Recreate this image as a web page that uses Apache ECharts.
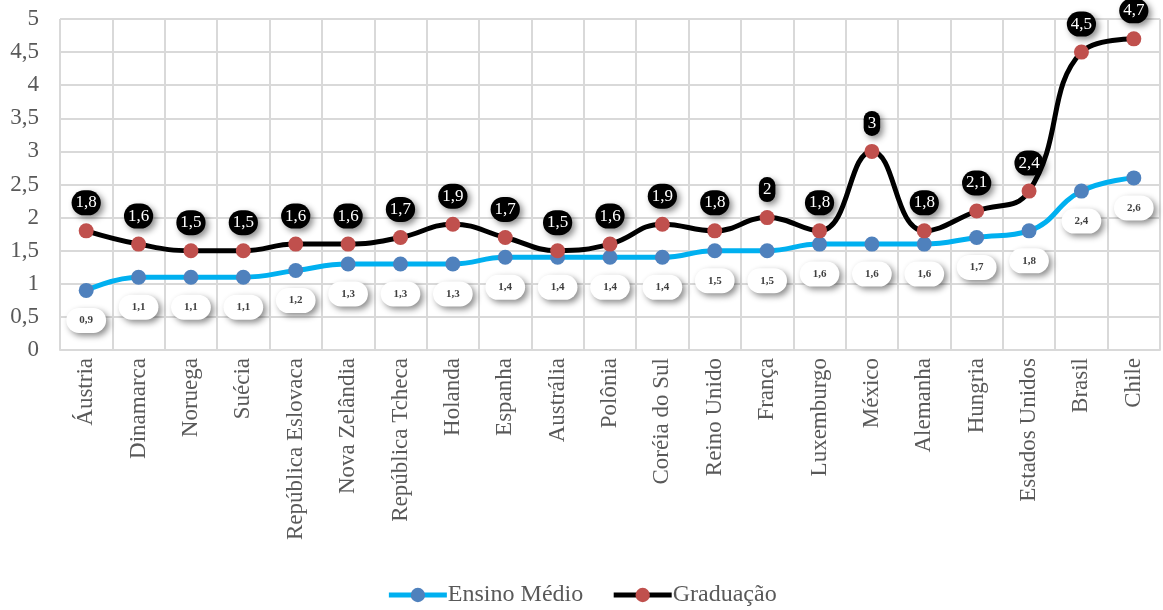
<!DOCTYPE html>
<html>
<head>
<meta charset="utf-8">
<script src="https://cdn.jsdelivr.net/npm/echarts@6/dist/echarts.min.js"></script>
<style>
  html, body { margin: 0; padding: 0; background: #fff; }
  #chart { width: 1163px; height: 610px; }
</style>
</head>
<body>
<div id="chart"></div>
<script>
const countries = ['Áustria', 'Dinamarca', 'Noruega', 'Suécia', 'República Eslovaca', 'Nova Zelândia',
  'República Tcheca', 'Holanda', 'Espanha', 'Austrália', 'Polônia', 'Coréia do Sul', 'Reino Unido',
  'França', 'Luxemburgo', 'México', 'Alemanha', 'Hungria', 'Estados Unidos', 'Brasil', 'Chile'];
const ensinoMedio = [0.9, 1.1, 1.1, 1.1, 1.2, 1.3, 1.3, 1.3, 1.4, 1.4, 1.4, 1.4, 1.5, 1.5, 1.6, 1.6, 1.6, 1.7, 1.8, 2.4, 2.6];
const graduacao = [1.8, 1.6, 1.5, 1.5, 1.6, 1.6, 1.7, 1.9, 1.7, 1.5, 1.6, 1.9, 1.8, 2, 1.8, 3, 1.8, 2.1, 2.4, 4.5, 4.7];

const fmt = (v) => String(v).replace('.', ',');
const font = '"Liberation Serif", "DejaVu Serif", serif';

const chart = echarts.init(document.getElementById('chart'));
chart.setOption({
  backgroundColor: '#fff',
  textStyle: { fontFamily: font },
  grid: { left: 60, right: 3, top: 19, bottom: 260 },
  legend: {
    top: 578,
    left: 'center',
    itemWidth: 58,
    itemHeight: 18,
    itemGap: 28,
    textStyle: { fontFamily: font, fontSize: 24, color: '#595959', padding: [0, 0, 0, -4] },
    lineStyle: { width: 5 },
    data: ['Ensino Médio', 'Graduação']
  },
  xAxis: {
    type: 'category',
    data: countries,
    boundaryGap: true,
    axisLine: { lineStyle: { color: '#d9d9d9', width: 2 } },
    axisTick: { show: false },
    splitLine: { show: true, interval: 0, lineStyle: { color: '#d9d9d9', width: 2 } },
    axisLabel: {
      interval: 0,
      rotate: 90,
      fontFamily: font,
      fontSize: 23,
      color: '#595959',
      margin: 8
    }
  },
  yAxis: {
    type: 'value',
    min: 0,
    max: 5,
    interval: 0.5,
    axisLine: { show: false },
    axisTick: { show: false },
    splitLine: { lineStyle: { color: '#d9d9d9', width: 2 } },
    axisLabel: {
      fontFamily: font,
      fontSize: 23,
      color: '#595959',
      margin: 21,
      formatter: fmt
    }
  },
  series: [
    {
      name: 'Ensino Médio',
      type: 'line',
      data: ensinoMedio,
      smooth: 0.45,
      symbol: 'circle',
      symbolSize: 15,
      z: 2,
      lineStyle: { color: '#00B0F0', width: 5 },
      itemStyle: { color: '#4F81BD' },
      label: {
        show: true,
        position: 'bottom',
        distance: 10,
        formatter: (p) => fmt(p.value),
        fontFamily: font,
        fontSize: 11,
        fontWeight: 'bold',
        color: '#404040',
        backgroundColor: '#fff',
        borderRadius: 14,
        padding: [7, 13],
        shadowColor: 'rgba(0,0,0,0.45)',
        shadowBlur: 6,
        shadowOffsetX: 3,
        shadowOffsetY: 3
      }
    },
    {
      name: 'Graduação',
      type: 'line',
      data: graduacao,
      smooth: 0.45,
      symbol: 'circle',
      symbolSize: 15,
      z: 3,
      lineStyle: { color: '#000', width: 5 },
      itemStyle: { color: '#C0504D' },
      label: {
        show: true,
        position: 'top',
        distance: 8,
        formatter: (p) => fmt(p.value),
        fontFamily: font,
        fontSize: 17,
        color: '#fff',
        backgroundColor: '#000',
        borderRadius: 14,
        padding: [4, 4],
        shadowColor: 'rgba(0,0,0,0.45)',
        shadowBlur: 6,
        shadowOffsetX: 3,
        shadowOffsetY: 3
      }
    }
  ]
});
</script>
</body>
</html>
